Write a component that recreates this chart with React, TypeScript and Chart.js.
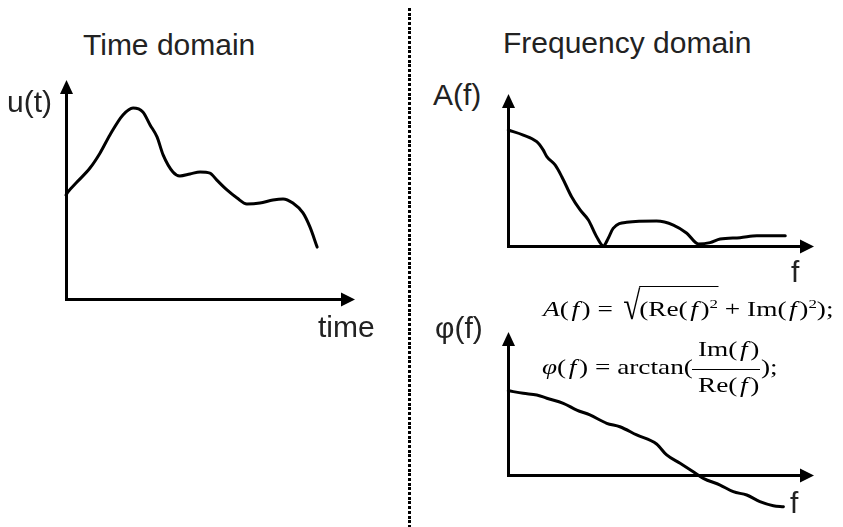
import React, { useEffect, useRef } from "react";
import { Chart, registerables } from "chart.js";

Chart.register(...registerables);

// ---- Time domain signal u(t) (axis units 0..100) ----
const timeT = [0, 0.7, 3.8, 8.3, 11.8, 15.2, 19.7, 23.2, 26.6, 29.1, 31.5, 33.6, 37.0, 39.4, 42.9, 46.4, 49.8, 52.2, 55.7, 59.2, 62.6, 67.1, 71.6, 75.1, 78.5, 82.0, 84.4, 86.9];
const timeU = [47.5, 48.9, 53.4, 59.8, 66.7, 74.9, 84.0, 87.2, 85.4, 79.5, 74.0, 65.8, 58.0, 56.2, 57.1, 58.0, 57.5, 54.3, 49.8, 46.1, 43.4, 43.8, 45.2, 45.7, 43.8, 39.3, 32.9, 23.7];

// ---- Amplitude spectrum A(f) ----
const ampF = [0, 4.9, 9.3, 11.4, 12.6, 15.3, 17.5, 20.7, 23.5, 26.2, 28.9, 31.1, 32.7, 34.3, 38.7, 48.5, 54.0, 58.4, 62.2, 66.0, 69.3, 75.8, 81.3, 90.6];
const ampA = [76.3, 73.0, 68.6, 63.2, 58.8, 53.3, 45.6, 32.4, 23.7, 17.1, 6.1, 0, 5.1, 11.6, 15.6, 16.4, 13.8, 8.4, 1.3, 2.2, 4.6, 5.5, 6.8, 6.8];

// ---- Phase spectrum φ(f) ----
const phaseF = [0, 4.9, 9.3, 12.6, 18.0, 22.4, 26.7, 32.2, 36.5, 42.0, 48.5, 51.8, 56.2, 60.5, 63.8, 69.3, 73.6, 78.0, 82.3, 86.7, 90.0];
const phaseP = [59.2, 57.4, 56.3, 54.0, 50.5, 45.8, 42.4, 36.6, 34.2, 28.5, 22.2, 14.6, 8.8, 3.0, -1.6, -6.3, -10.9, -13.2, -17.8, -20.6, -21.3];

// axis ranges
const axisMax = 100;
const ampMin = 0;
const timeMin = 0;
const phaseMin = -30;

const SANS = '"Liberation Sans", Arial, Helvetica, sans-serif';
const SERIF = '"Liberation Serif", "Times New Roman", Times, serif';

const arrowAxes = {
  id: "arrowAxes",
  beforeDatasetsDraw(chart: any) {
    const { ctx } = chart;
    const xs = chart.scales.x;
    const ys = chart.scales.y;
    const x0 = Math.round(xs.getPixelForValue(0) - 0.5) + 0.5;
    const x1 = xs.getPixelForValue(xs.max);
    const y0 = Math.round(ys.getPixelForValue(0) - 0.5) + 0.5;
    const y1 = ys.getPixelForValue(ys.max);
    ctx.save();
    ctx.strokeStyle = "#000";
    ctx.fillStyle = "#000";
    ctx.lineWidth = 3;
    ctx.lineCap = "butt";
    ctx.beginPath();
    ctx.moveTo(x0, y1 + 10);
    ctx.lineTo(x0, y0 + 1.5);
    ctx.moveTo(x0 - 1.5, y0);
    ctx.lineTo(x1 - 10, y0);
    ctx.stroke();
    ctx.beginPath();
    ctx.moveTo(x0, y1);
    ctx.lineTo(x0 - 6.5, y1 + 14);
    ctx.lineTo(x0 + 6.5, y1 + 14);
    ctx.closePath();
    ctx.fill();
    ctx.beginPath();
    ctx.moveTo(x1, y0);
    ctx.lineTo(x1 - 14, y0 - 7);
    ctx.lineTo(x1 - 14, y0 + 7);
    ctx.closePath();
    ctx.fill();
    ctx.restore();
  },
};

type PlotProps = {
  left: number; top: number; width: number; height: number;
  pad: { left: number; right: number; top: number; bottom: number };
  xs: number[]; ys: number[]; yMin: number; yMax: number;
};

function Plot({ left, top, width, height, pad, xs, ys, yMin, yMax }: PlotProps) {
  const ref = useRef<HTMLCanvasElement>(null);
  useEffect(() => {
    const chart = new Chart(ref.current as HTMLCanvasElement, {
      type: "line",
      data: {
        datasets: [
          {
            data: xs.map((x, i) => ({ x, y: ys[i] })),
            borderColor: "#000",
            borderWidth: 3,
            pointRadius: 0,
            cubicInterpolationMode: "monotone",
            fill: false,
            clip: false as any,
            borderCapStyle: "round",
            borderJoinStyle: "round",
          } as any,
        ],
      },
      options: {
        responsive: false,
        animation: false,
        devicePixelRatio: 1,
        events: [],
        layout: { padding: pad },
        plugins: { legend: { display: false }, tooltip: { enabled: false }, title: { display: false } },
        scales: {
          x: { type: "linear", min: 0, max: axisMax, display: false },
          y: { type: "linear", min: yMin, max: yMax, display: false },
        },
      },
      plugins: [arrowAxes],
    });
    return () => chart.destroy();
  }, []);
  return (
    <canvas
      ref={ref}
      width={width}
      height={height}
      style={{ position: "absolute", left, top, width, height }}
    />
  );
}

function Label({ x, base, size, serif, color, sx, children }: any) {
  const k = serif ? 0.8375 : 0.8465;
  return (
    <div
      style={{
        position: "absolute",
        left: x,
        top: base - k * size,
        fontSize: size,
        lineHeight: `${size}px`,
        fontFamily: serif ? SERIF : SANS,
        whiteSpace: "nowrap",
        color: color || (serif ? "#000" : "#222"),
        transform: sx ? `scaleX(${sx})` : undefined,
        transformOrigin: "left center",
      }}
    >
      {children}
    </div>
  );
}

const Sup = ({ children }: any) => (
  <span style={{ fontSize: 13, position: "relative", top: -8, lineHeight: 0 }}>{children}</span>
);
const F = () => <i style={{ margin: "0 2px" }}>f</i>;
const SX = 1.3;

export default function App() {
  return (
    <div
      style={{
        position: "absolute",
        left: 0,
        top: 0,
        width: 843,
        height: 527,
        overflow: "hidden",
        background: "#fff",
      }}
    >
      {/* Time domain */}
      <Plot left={50} top={70} width={320} height={245}
        pad={{ left: 16, top: 10, right: 15, bottom: 16 }}
        xs={timeT} ys={timeU} yMin={timeMin} yMax={axisMax} />
      {/* Amplitude */}
      <Plot left={490} top={80} width={340} height={180}
        pad={{ left: 18.3, top: 14, right: 16, bottom: 14 }}
        xs={ampF} ys={ampA} yMin={ampMin} yMax={axisMax} />
      {/* Phase */}
      <Plot left={490} top={320} width={340} height={210}
        pad={{ left: 18.3, top: 12, right: 16, bottom: 10.8 }}
        xs={phaseF} ys={phaseP} yMin={phaseMin} yMax={axisMax} />

      {/* dotted divider */}
      <div
        style={{
          position: "absolute",
          left: 408,
          top: 8,
          width: 3,
          height: 519,
          background:
            "repeating-linear-gradient(to bottom, #000 0px, #000 3px, transparent 3px, transparent 4.7px)",
        }}
      />

      <Label x={83} base={55} size={30}>Time domain</Label>
      <Label x={7} base={112} size={30}>u(t)</Label>
      <Label x={318} base={337} size={30}>time</Label>
      <Label x={503} base={53} size={30}>Frequency domain</Label>
      <Label x={433} base={105} size={30}>A(f)</Label>
      <Label x={791} base={282} size={30}>f</Label>
      <Label x={435} base={338} size={30}>φ(f)</Label>
      <Label x={790} base={513} size={30}>f</Label>

      {/* formulas */}
      <Label x={543} base={317} size={21} serif sx={SX}>
        <i>A</i>(<F />) = <span style={{ display: "inline-block", fontSize: 40, lineHeight: 0, position: "relative", top: 3, transform: "scaleX(0.6)", transformOrigin: "right center", marginLeft: -6, marginRight: -1 }}>√</span>
        <span style={{ borderTop: "1.3px solid #000", paddingTop: 10 }}>(Re(<F />)<Sup>2</Sup></span> + Im(<F />)<Sup>2</Sup>);
      </Label>
      <Label x={542} base={375} size={21} serif sx={SX}>
        <i>φ</i>(<F />) = arctan(
      </Label>
      <Label x={698} base={357} size={21} serif sx={SX}>Im(<F />)</Label>
      <div style={{ position: "absolute", left: 692, top: 369, width: 68, height: 1, background: "#000" }} />
      <Label x={698} base={393} size={21} serif sx={SX}>Re(<F />)</Label>
      <Label x={761} base={375} size={21} serif sx={SX}>);</Label>
    </div>
  );
}
